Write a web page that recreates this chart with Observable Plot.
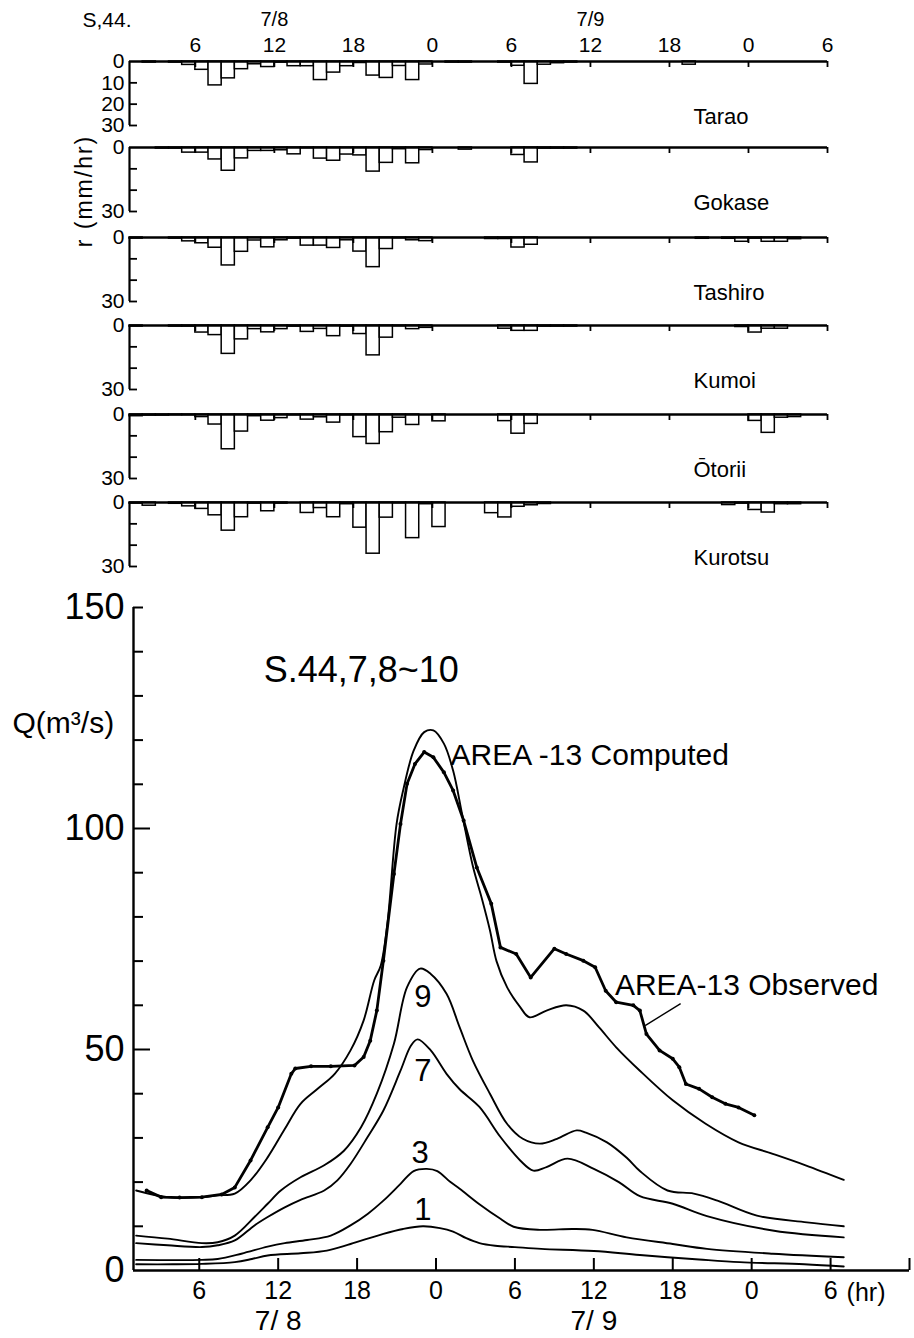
<!DOCTYPE html>
<html><head><meta charset="utf-8">
<script src="https://cdn.jsdelivr.net/npm/d3@7"></script>
<script src="https://cdn.jsdelivr.net/npm/@observablehq/plot@0.6"></script>
<style>
html,body{margin:0;padding:0;background:#fff;}
#chart{position:relative;width:914px;height:1338px;overflow:hidden;background:#fff;}
#chart svg{position:absolute;left:0;}
#rlabel{position:absolute;left:84px;top:191px;transform:translate(-50%,-50%) rotate(-90deg);font-family:'Liberation Sans', Arial, sans-serif;font-size:23px;letter-spacing:2px;white-space:nowrap;color:#000;line-height:1;}
</style></head><body><div id="chart"><div id="rlabel">r (mm/hr)</div></div>
<script>
const FONT = "'Liberation Sans', Arial, sans-serif";

// ---------- Hyetograph data: hourly rainfall (mm/hr), first bar = hour 1 of 7/8 ----------
const hourStart = 1;
const stations = ["Tarao", "Gokase", "Tashiro", "Kumoi", "Ōtorii", "Kurotsu"];
const tarao   = [0,0.5,0,0.5,1.6,3.9,11.2,7.9,3.6,1.3, 2.6,0.5,2.2,2.2,8.7,5.2,2.2,0.7,6.6,7.7, 2.1,8.7,1.4,0,0.5,0.5,0,0,0.5,2, 10.5,1.5,0.8,0.5,0,0,0,0,0,0, 0,0,1.5,0,0,0,0,0,0,0, 0,0,0];
const gokase  = [0,0,0.5,0.5,2.4,2.4,5.6,10.9,5.1,1.6, 1.6,1.3,3.2,0.3,5.2,6.2,3.3,3.7,11.3,7.2, 0.8,7.4,1.2,0,0,1,0,0,0,3.5, 7,0.5,0.5,0.5,0,0,0,0,0,0, 0,0,0,0,0,0,0,0,0,0, 0,0,0];
const tashiro = [0.5,0,0,0.5,1.8,2.7,4.8,13.1,6.7,1.4, 4.6,1.3,0.5,3.8,3.8,4.9,1.3,6.6,13.9,5.4, 0.3,1.3,1.7,0,0,0,0,0.7,0.7,4.7, 3.4,0,0,0,0,0,0,0,0,0, 0,0,0,0.6,0,0.6,2,0.5,2,2, 0.8,0,0];
const kumoi   = [0.5,0,0,0.5,0.5,3.3,4.5,13.3,6.5,1.7, 3.2,1.7,0.5,3,1.6,5,0.5,4,14,5.7, 0.3,1.7,1.1,0,0,0,0,0,1.5,2.5, 2.5,0.5,0.5,0.5,0,0,0,0,0,0, 0,0,0,0,0,0,0.7,3.3,1.5,1.5, 0,0,0];
const otorii  = [0.8,0.5,0.5,0.3,0.3,1.2,4.7,16.3,8,0.8, 2.9,1.7,0.3,2.4,1.3,3.8,0.3,10.6,13.8,8.3, 1.5,4.9,0,3.2,0,0,0,0,3.1,9, 4.4,0,0,0,0,0,0,0,0,0, 0,0,0,0,0,0,0,3,8.6,1.5, 1.2,0,0];
const kurotsu = [0.5,1.5,0,0.6,1.8,3,6,13.2,6.9,0.5, 4.1,0.5,0,4.9,2.6,6.9,0.8,11.8,24,7.1, 0.3,16.7,0.8,11.5,0,0,0,5,7,2, 1.3,0.7,0,0,0,0,0,0,0,0, 0,0,0,0,0,1.2,0.5,3.5,4.7,0.8, 0.8,0,0];
const rainByStation = [tarao, gokase, tashiro, kumoi, otorii, kurotsu];

// tick values (hours from 7/8 0:00)
const hourTicksTop = [6,12,18,24,30,36,42,48,54];
const hourTicksBottom = [6,12,18,24,30,36,42,48,54,60];
const hourLabels = [6,12,18,24,30,36,42,48,54];
const dateLabels = [{t: 12, label: "7/8"}, {t: 36, label: "7/9"}];
const rainTicksTarao = [0,10,20,30];
const rainTicksOther = [0,30];
const rainMinorTicks = [10,20,30];
const qLabelTicks = [0,50,100,150];
const qMinorTicks = [10,20,30,40,60,70,80,90,110,120,130,140,150];
const qMajorTicks = [50,100];

// ---------- Hydrograph data: [hour, Q (m3/s)] ----------
const observed = [[2,18.1],[3.1,16.6],[4.5,16.5],[6.2,16.6],[7.7,17.2],[8.7,18.8],[9.9,24.9],[11.2,32.4],[12,36.9],[13,44.5],[13.3,45.7],[14.5,46.2],[16,46.2],[17.8,46.4],[18.5,48.3],[19,52],[19.5,58.8],[20,70.1],[20.8,89.7],[21.3,101],[21.8,110.1],[22.4,114.6],[23.1,117.3],[23.8,116.1],[24.6,112.7],[25.3,108.6],[26.1,101.8],[27.1,91.2],[28.2,83],[28.9,73.1],[30.1,71.6],[31.2,66.3],[33,72.8],[33.9,71.6],[35.2,70.1],[36.1,68.6],[36.9,63.3],[37.7,60.7],[39,60],[39.5,58.8],[40,53.5],[41,49.8],[42,47.9],[42.5,46],[43,42.2],[44,41.1],[45,39.2],[46,37.7],[47,36.9],[48.2,35.1]];
const computedArea13 = [[1.2,18.1],[3.6,16.6],[6.2,16.6],[7.4,17],[8.7,17.4],[9.9,20.4],[11.2,25.6],[12.5,32],[13.7,37.7],[15,41.1],[16.3,44.5],[17.5,49.8],[18.5,56.6],[19.3,65.6],[19.8,69],[20.3,78.4],[21,101],[21.5,108.6],[22.3,117.6],[23.1,121.8],[23.8,122.2],[24.6,119.2],[25.3,113.1],[26,103],[26.8,91.5],[27.5,84],[28.1,77],[28.6,70],[29.4,64.1],[30.4,59.6],[31.1,57.3],[32.4,58.8],[33.9,60],[35.2,58.8],[36.4,55],[37.7,50.5],[39.5,45.2],[42,38.5],[44.5,33.2],[47,29],[49.6,26.4],[52.1,23.8],[55,20.5]];
const computed9 = [[1.2,7.9],[3.6,7.2],[6.2,6.2],[7.4,6.4],[8.7,7.9],[10.2,12.1],[11.2,15.1],[12.2,18.1],[13.7,21.1],[15.5,23.8],[17,27.1],[18.3,32.4],[19.5,40],[20.8,51.3],[21.8,64.1],[22.8,68.3],[23.6,67.1],[24.8,62.6],[25.8,55],[26.8,47.5],[28.1,40],[29.4,33.2],[30.6,29.8],[31.9,28.7],[33.2,29.8],[34.7,31.7],[35.4,31.2],[37,29],[38.5,25.5],[39.5,22.5],[41.6,18.1],[43.6,17.4],[45.4,15.8],[48.4,12.4],[52.2,10.9],[55,10]];
const computed7 = [[1.2,6.2],[3.6,5.7],[6.2,5.3],[7.4,5.7],[8.7,6.8],[10.2,10.2],[11.2,12.1],[12.5,14.3],[13.7,16],[15.5,18.1],[16.5,20.4],[17.5,24.1],[18.8,30.2],[20,36.2],[21.3,45.2],[22.1,50.9],[22.6,52.3],[23.6,49.8],[24.8,44.5],[25.8,41],[27.3,37],[28.9,30.2],[30.4,24.9],[31.4,22.6],[32.4,23.4],[34,25.3],[36,23],[37.9,20],[39.5,16.8],[42,15.1],[44.6,12.3],[49.7,9],[55,7.5]];
const computed3 = [[1.2,2.4],[6.2,2.4],[7.4,2.6],[9.2,3.8],[11.2,5.4],[12.5,6.2],[14.2,6.9],[16,7.9],[17.5,10.2],[18.8,12.8],[20,15.8],[21.3,19.6],[22.3,22.5],[23.3,23],[24.1,22.5],[25.1,20],[25.8,18.5],[27.3,15],[28.9,11.7],[29.9,9.9],[31.9,9.2],[34.4,9.4],[35.9,9.2],[38.5,7.5],[42,6],[44.6,4.9],[49.6,3.8],[55,3]];
const computed1 = [[1.2,1.4],[4,1.4],[6.2,1.5],[8.7,1.9],[10,2.6],[11.2,3.4],[13.7,3.9],[15.7,4.5],[17.5,6],[20,8.3],[21.5,9.4],[23,10],[24.3,9.6],[25.3,8.8],[26.3,7.3],[27.3,6.2],[28.5,5.6],[30,5.3],[32,4.9],[36,4.4],[39.5,3.5],[44,2.5],[47.1,1.9],[52,1.4],[55,0.9]];
const computedSeries = [
  {name: "AREA-13", pts: computedArea13},
  {name: "9", pts: computed9},
  {name: "7", pts: computed7},
  {name: "3", pts: computed3},
  {name: "1", pts: computed1}
];
const curveLabels = [{t: 23.0, q: 61.8, label: "9"}, {t: 23.0, q: 45.2, label: "7"}, {t: 22.8, q: 26.5, label: "3"}, {t: 23.0, q: 13.6, label: "1"}];
const annotations = [
  {t: 25.1, q: 116.5, label: "AREA -13 Computed"},
  {t: 37.6, q: 64.5, label: "AREA-13 Observed"}
];
const leader = [{t1: 42.6, q1: 60.4, t2: 39.9, q2: 55.4}];
const titleText = {t: 10.9, q: 135.7, label: "S.44,7,8~10"};

// ---------- layout ----------
const chart = document.getElementById("chart");
const panelZero = [61, 147, 237, 325, 414, 502];
const panelH = 64;
const svgStyle = {background: "transparent", overflow: "visible", fontFamily: FONT, color: "black"};
const frameW = 914 - 129 - 87;

stations.forEach((name, i) => {
  const first = i === 0;
  const mt = first ? 61 : 10;
  const mb = 14;
  const bars = rainByStation[i].map((v, j) => ({h: hourStart + j, v})).filter(d => d.v > 0);
  const marks = [
    Plot.rect(bars, {x1: "h", x2: d => d.h + 1, y1: d => 0, y2: "v", fill: "white", stroke: "black", strokeWidth: 1.5}),
    Plot.ruleY([0], {strokeWidth: 2.4}),
    Plot.ruleX([hourStart], {y1: 0, y2: 30, strokeWidth: 2.2}),
    Plot.tickX(hourTicksTop, {x: d => d, insetBottom: panelH - 6, strokeWidth: 1.8}),
    Plot.tickY(rainMinorTicks, {y: d => d, insetRight: frameW - 8, strokeWidth: 1.8}),
    Plot.axisY(first ? rainTicksTarao : rainTicksOther, {tickSize: 0, tickPadding: 5, fontSize: 21, label: null}),
    Plot.text([name], {text: d => d, frameAnchor: "top-left", dx: 564, dy: 55, textAnchor: "start", lineAnchor: "middle", fontSize: 22})
  ];
  if (first) {
    marks.push(
      Plot.axisX(hourLabels, {anchor: "top", tickSize: 0, tickPadding: 10, fontSize: 21, tickFormat: d => String(d % 24), label: null}),
      Plot.text(dateLabels, {x: "t", text: "label", frameAnchor: "top", dy: -42, fontSize: 20, lineAnchor: "middle", letterSpacing: "2px"}),
      Plot.text(["S,44."], {text: d => d, frameAnchor: "top-left", dx: -47, dy: -41, textAnchor: "start", lineAnchor: "middle", fontSize: 21, letterSpacing: "1px"})
    );
  }
  const svg = Plot.plot({
    width: 914, height: mt + panelH + mb,
    marginLeft: 129, marginRight: 87, marginTop: mt, marginBottom: mb,
    x: {domain: [hourStart, 54], ...(first ? {} : {axis: null})},
    y: {domain: [0, 30], reverse: true},
    style: svgStyle,
    marks
  });
  svg.style.top = (panelZero[i] - mt) + "px";
  chart.appendChild(svg);
});

// ---------- Hydrograph ----------
const qTop = 580, qMT = 27, qMB = 68, qH = 758;
const qFrameW = 914 - 133 - 5;
const qFrameH = qH - qMT - qMB;
const computedLong = computedSeries.flatMap(s => s.pts.map(p => ({series: s.name, t: p[0], q: p[1]})));
const obsRows = observed.map(p => ({t: p[0], q: p[1]}));

const hydro = Plot.plot({
  width: 914, height: qH,
  marginLeft: 133, marginRight: 5, marginTop: qMT, marginBottom: qMB,
  x: {domain: [1, 60]},
  y: {domain: [0, 150]},
  style: svgStyle,
  marks: [
    Plot.ruleX([1], {strokeWidth: 2.4}),
    Plot.ruleY([0], {strokeWidth: 2.4}),
    Plot.tickY(qMinorTicks, {y: d => d, insetRight: qFrameW - 10, strokeWidth: 2}),
    Plot.tickY(qMajorTicks, {y: d => d, insetRight: qFrameW - 17, strokeWidth: 2}),
    Plot.tickX(hourTicksBottom, {x: d => d, insetTop: qFrameH - 12, strokeWidth: 2}),
    Plot.axisY(qLabelTicks, {tickSize: 0, tickPadding: 9, fontSize: 36, label: null}),
    Plot.axisX(hourLabels, {tickSize: 0, tickPadding: 11, fontSize: 25, tickFormat: d => String(d % 24), label: null}),
    Plot.text(["(hr)"], {text: d => d, frameAnchor: "bottom-right", dx: -24, dy: 22, fontSize: 25, lineAnchor: "middle"}),
    Plot.text(dateLabels, {x: "t", frameAnchor: "bottom", dy: 51, fontSize: 28, lineAnchor: "middle", text: d => d.label.replace("/", "/ "), letterSpacing: "1px"}),
    Plot.line(computedLong, {x: "t", y: "q", z: "series", curve: "catmull-rom", strokeWidth: 1.9}),
    Plot.line(obsRows, {x: "t", y: "q", strokeWidth: 2.8, curve: "linear"}),
    Plot.dot(obsRows, {x: "t", y: "q", r: 2, fill: "black"}),
    Plot.link(leader, {x1: "t1", y1: "q1", x2: "t2", y2: "q2", strokeWidth: 1.4}),
    Plot.text(curveLabels, {x: "t", y: "q", text: "label", fontSize: 31}),
    Plot.text(annotations, {x: "t", y: "q", text: "label", fontSize: 30, textAnchor: "start"}),
    Plot.text([titleText], {x: "t", y: "q", text: "label", fontSize: 36, textAnchor: "start", letterSpacing: "3px"}),
    Plot.text(["Q(m³/s)"], {text: d => d, frameAnchor: "top-left", dx: -121, dy: 116, fontSize: 30, textAnchor: "start", lineAnchor: "middle"})
  ]
});
hydro.style.top = qTop + "px";
chart.appendChild(hydro);
</script></body></html>
